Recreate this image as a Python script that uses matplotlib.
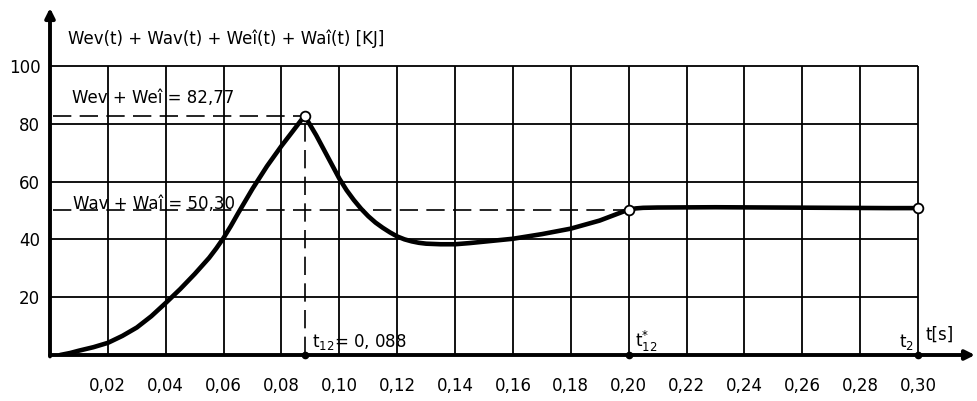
import matplotlib
matplotlib.use("Agg")
import matplotlib.pyplot as plt

# ---- data ----
t_curve = [0.0035, 0.007, 0.01, 0.015, 0.02, 0.025, 0.03, 0.035, 0.04, 0.045, 0.05, 0.055,
           0.0575, 0.06, 0.0625, 0.065, 0.07, 0.075, 0.08, 0.084, 0.088,
           0.092, 0.096, 0.10, 0.1025, 0.105, 0.1075, 0.11, 0.1125, 0.115, 0.1175, 0.12,
           0.1225, 0.125, 0.1275, 0.13, 0.135, 0.14, 0.145, 0.15, 0.155, 0.16,
           0.17, 0.18, 0.19, 0.20, 0.2025, 0.205, 0.21, 0.23, 0.25, 0.27, 0.29, 0.30]
w_curve = [0.0, 0.7, 1.5, 2.7, 4.2, 6.6, 9.5, 13.4, 18.0, 22.8, 28.0, 33.6,
           36.9, 40.5, 44.6, 49.0, 57.5, 65.3, 72.3, 77.5, 82.77,
           76.0, 68.5, 61.0, 57.0, 53.6, 50.6, 48.0, 45.8, 44.0, 42.4, 41.0,
           40.0, 39.3, 38.8, 38.5, 38.3, 38.3, 38.7, 39.2, 39.7, 40.2,
           41.8, 43.7, 46.5, 50.3, 50.7, 50.9, 51.0, 51.1, 51.0, 50.9, 50.8, 50.8]

x_ticks = [0.02, 0.04, 0.06, 0.08, 0.10, 0.12, 0.14, 0.16, 0.18, 0.20, 0.22, 0.24, 0.26, 0.28, 0.30]
x_labels = ["0,02", "0,04", "0,06", "0,08", "0,10", "0,12", "0,14", "0,16", "0,18", "0,20",
            "0,22", "0,24", "0,26", "0,28", "0,30"]
y_ticks = [20, 40, 60, 80, 100]
y_labels = ["20", "40", "60", "80", "100"]

t12, w_peak = 0.088, 82.77
t12s, w_mid = 0.20, 50.30
t2, w_end = 0.30, 50.8

plt.rcParams["font.family"] = ["DejaVu Sans"]
plt.rcParams["mathtext.default"] = "regular"

fig = plt.figure(figsize=(9.77, 4.01), dpi=100)
ax = fig.add_axes([50 / 977, 46 / 401, 925 / 977, 347 / 401])
ax.set_xlim(0, 0.3197)
ax.set_ylim(0, 120.0)
for s in ax.spines.values():
    s.set_visible(False)

# grid
ax.vlines(x_ticks, 0, 100, color="black", lw=1.3, zorder=1)
ax.hlines(y_ticks, 0, 0.30, color="black", lw=1.3, zorder=1)

# ticks / labels
ax.set_xticks(x_ticks, x_labels)
ax.set_yticks(y_ticks, y_labels)
ax.tick_params(axis="x", length=0, pad=16, labelsize=12)
ax.tick_params(axis="y", length=0, pad=7, labelsize=12)

# axes with arrows
ax.annotate("", xy=(0.3197, 0), xytext=(0, 0),
            arrowprops=dict(arrowstyle="-|>", lw=2.8, color="black", mutation_scale=14,
                            shrinkA=0, shrinkB=0), annotation_clip=False, zorder=5)
ax.annotate("", xy=(0, 120), xytext=(0, -0.5),
            arrowprops=dict(arrowstyle="-|>", lw=2.8, color="black", mutation_scale=14,
                            shrinkA=0, shrinkB=0), annotation_clip=False, zorder=5)

# dashed helper lines
dash = (0, (11, 5))
ax.plot([0.001, t12], [w_peak, w_peak], color="black", lw=1.2, ls=dash, zorder=2)
ax.plot([t12, t12], [0, w_peak], color="black", lw=1.2, ls=dash, zorder=2)
ax.plot([0.001, t12s], [w_mid, w_mid], color="black", lw=1.2, ls=dash, zorder=2)

# curve
ax.plot(t_curve, w_curve, color="black", lw=3.3, solid_capstyle="round",
        solid_joinstyle="round", zorder=3)

# markers
ax.plot([t12, t12s, t2], [w_peak, w_mid, w_end], ls="none", marker="o", ms=7,
        mfc="white", mec="black", mew=1.3, zorder=4)
ax.plot([t12, t12s, t2], [0, 0, 0], ls="none", marker="o", ms=4.5,
        color="black", zorder=6, clip_on=False)

# texts
ax.text(0.0062, 109.5, "Wev(t) + Wav(t) + Weî(t) + Waî(t) [KJ]", fontsize=12,
        va="center", ha="left")
ax.text(0.0076, 87.2, "Wev + Weî = 82,77", fontsize=12, va="baseline", ha="left")
ax.text(0.0079, 50.6, "Wav + Waî = 50,30", fontsize=12, va="baseline", ha="left")
ax.text(0.0905, 2.8, "t$_{12}$= 0, 088", fontsize=12, va="baseline", ha="left")
ax.text(0.2022, 2.8, "t$^{*}_{12}$", fontsize=12, va="baseline", ha="left")
ax.text(0.2985, 2.8, "t$_{2}$", fontsize=12, va="baseline", ha="right")
ax.text(0.3027, 5.2, "t[s]", fontsize=12, va="baseline", ha="left")

fig.savefig("out.png", dpi=100)
